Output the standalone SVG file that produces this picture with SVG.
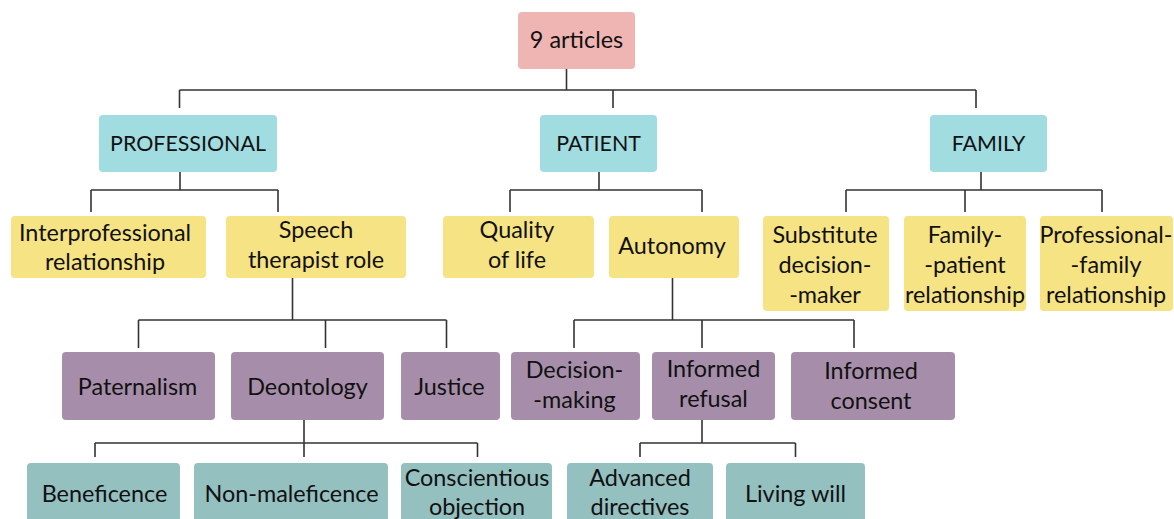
<svg xmlns="http://www.w3.org/2000/svg" width="1174" height="519" viewBox="0 0 1174 519">
<style>
rect{rx:4px;ry:4px}
.root{fill:#efb5b3}
.cat{fill:#a0dce0}
.yel{fill:#f6e384}
.pur{fill:#a68eaa}
.teal{fill:#94c0c0}
text{font-family:Lato,"Liberation Sans",sans-serif;font-size:23.4px;fill:#111;text-anchor:middle}
.cap{font-size:21.4px}
#connectors path{fill:none;stroke:#333;stroke-width:1.6}
</style>
<rect width="1174" height="519" fill="#fff" rx="0" ry="0"/>
<g id="connectors">
<path d="M566.5 68V90M179.5 90H976M179.5 90V108M613 90V108M976 90V108"/>
<path d="M180 172V190M91 190H278M91 190V212M278 190V212"/>
<path d="M599 172V190M510 190H702M510 190V212M702 190V212"/>
<path d="M981 172V190M846 190H1102M846 190V212M965 190V212M1102 190V212"/>
<path d="M292.5 278V320M138.5 320H446.5M138.5 320V348M325.5 320V348M446.5 320V348"/>
<path d="M672.5 278V320M574 320H854M574 320V348M702 320V348M854 320V348"/>
<path d="M304 420V457M95 443H477.5M95 443V457M477.5 443V457"/>
<path d="M702 420V443M640 443H795.5M640 443V457M795.5 443V457"/>
</g>
<g id="n-root"><rect class="root" x="518" y="12" width="117" height="57"/><text x="576.5" y="48">9 articles</text></g>
<g id="n-professional"><rect class="cat" x="99" y="115" width="178" height="57"/><text class="cap" x="188" y="151">PROFESSIONAL</text></g>
<g id="n-patient"><rect class="cat" x="540" y="115" width="117" height="57"/><text class="cap" x="598.5" y="151">PATIENT</text></g>
<g id="n-family"><rect class="cat" x="930" y="115" width="117" height="57"/><text class="cap" x="988.5" y="151">FAMILY</text></g>
<g id="n-interprof"><rect class="yel" x="11" y="216" width="195" height="62"/><text x="105" y="241">Interprofessional</text><text x="105" y="270">relationship</text></g>
<g id="n-speech"><rect class="yel" x="226" y="216" width="180" height="62"/><text x="316" y="238">Speech</text><text x="316" y="268">therapist role</text></g>
<g id="n-quality"><rect class="yel" x="443" y="216" width="151" height="62"/><text x="517" y="238">Quality</text><text x="517" y="268">of life</text></g>
<g id="n-autonomy"><rect class="yel" x="609" y="216" width="130" height="62"/><text x="672" y="254">Autonomy</text></g>
<g id="n-substitute"><rect class="yel" x="763" y="216" width="126" height="95"/><text x="825" y="243">Substitute</text><text x="825" y="273">decision-</text><text x="825" y="303">-maker</text></g>
<g id="n-famrel"><rect class="yel" x="904" y="216" width="122" height="95"/><text x="965" y="243">Family-</text><text x="965" y="273">-patient</text><text x="965" y="303">relationship</text></g>
<g id="n-proffam"><rect class="yel" x="1040" y="216" width="133" height="95"/><text x="1106" y="243">Professional-</text><text x="1106" y="273">-family</text><text x="1106" y="303">relationship</text></g>
<g id="n-paternalism"><rect class="pur" x="62" y="352" width="153" height="68"/><text x="137.5" y="395">Paternalism</text></g>
<g id="n-deontology"><rect class="pur" x="231" y="352" width="153" height="68"/><text x="307.5" y="395">Deontology</text></g>
<g id="n-justice"><rect class="pur" x="401" y="352" width="99" height="68"/><text x="449.5" y="395">Justice</text></g>
<g id="n-decision"><rect class="pur" x="511" y="352" width="129" height="68"/><text x="574.5" y="378">Decision-</text><text x="574.5" y="408">-making</text></g>
<g id="n-refusal"><rect class="pur" x="652" y="352" width="123" height="68"/><text x="713.5" y="377">Informed</text><text x="713.5" y="407">refusal</text></g>
<g id="n-consent"><rect class="pur" x="791" y="352" width="164" height="68"/><text x="871" y="379">Informed</text><text x="871" y="409">consent</text></g>
<g id="n-beneficence"><rect class="teal" x="27" y="463" width="153" height="70"/><text x="104.5" y="502">Beneficence</text></g>
<g id="n-nonmal"><rect class="teal" x="194" y="463" width="194" height="70"/><text x="291.5" y="502">Non-maleficence</text></g>
<g id="n-conscientious"><rect class="teal" x="401" y="463" width="151" height="70"/><text x="477" y="486">Conscientious</text><text x="477" y="515">objection</text></g>
<g id="n-advanced"><rect class="teal" x="567" y="463" width="146" height="70"/><text x="640" y="486">Advanced</text><text x="640" y="515">directives</text></g>
<g id="n-living"><rect class="teal" x="726" y="463" width="139" height="70"/><text x="795.5" y="502">Living will</text></g>
</svg>
